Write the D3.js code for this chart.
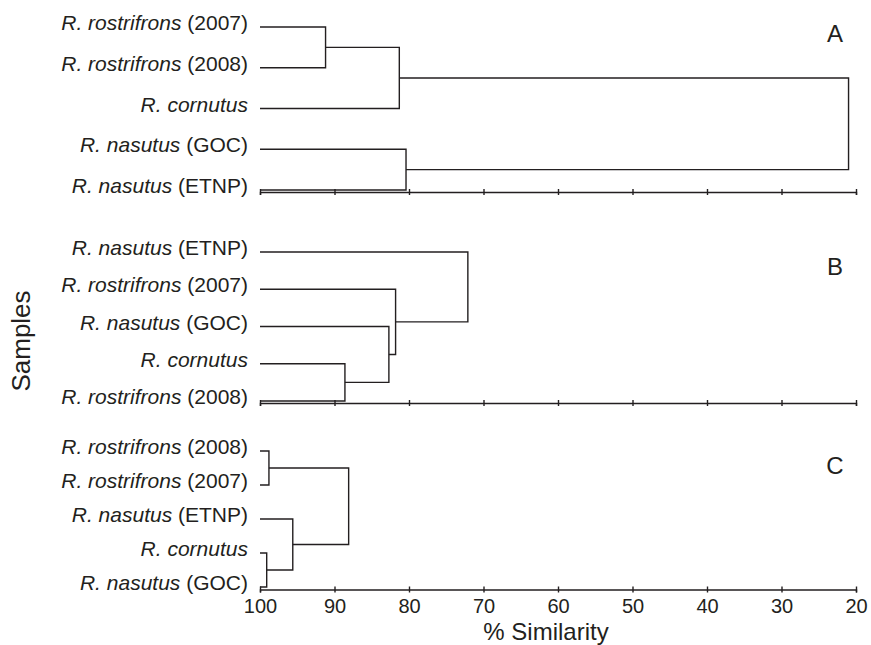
<!DOCTYPE html>
<html lang="en">
<head>
  <meta charset="UTF-8">
  <title>Dendrograms of % similarity</title>
  <script src="https://d3js.org/d3.v7.min.js"></script>
  <style>
    body {
      margin: 0;
      background: #fff;
    }
    svg text {
      font-family: "Liberation Sans", Arial, Helvetica, sans-serif;
      fill: #231f20;
    }
    .link {
      fill: none;
      stroke: #231f20;
      stroke-width: 1.4px;
    }
    .axis path, .axis line {
      stroke: #231f20;
      stroke-width: 1.4px;
    }
  </style>
</head>
<body>
  <svg width="871" height="645"></svg>

  <script>
    // leaves listed top to bottom; labels split into italic species + plain suffix
    const leavesA = [["R. rostrifrons", "(2007)"], ["R. rostrifrons", "(2008)"], ["R. cornutus", ""], ["R. nasutus", "(GOC)"], ["R. nasutus", "(ETNP)"]];
    const leavesB = [["R. nasutus", "(ETNP)"], ["R. rostrifrons", "(2007)"], ["R. nasutus", "(GOC)"], ["R. cornutus", ""], ["R. rostrifrons", "(2008)"]];
    const leavesC = [["R. rostrifrons", "(2008)"], ["R. rostrifrons", "(2007)"], ["R. nasutus", "(ETNP)"], ["R. cornutus", ""], ["R. nasutus", "(GOC)"]];

    // merges: [child, child, % similarity]; ids 0-4 are leaves, 5+ are earlier merges
    const mergesA = [[0, 1, 91.2], [5, 2, 81.3], [3, 4, 80.4], [6, 7, 21.0]];
    const mergesB = [[3, 4, 88.6], [2, 5, 82.7], [1, 6, 81.8], [0, 7, 72.1]];
    const mergesC = [[0, 1, 98.8], [3, 4, 99.1], [2, 6, 95.6], [5, 7, 88.1]];

    const panelLetters = ["A", "B", "C"];
    const tickValues = [100, 90, 80, 70, 60, 50, 40, 30, 20];

    const svg = d3.select("svg");

    const x = d3.scaleLinear().domain([100, 20]).range([260, 856]);

    const panels = [
      {leaves: leavesA, merges: mergesA, top: 27, bottom: 190, axisY: 192, letterY: 42},
      {leaves: leavesB, merges: mergesB, top: 252, bottom: 401, axisY: 403, letterY: 275},
      {leaves: leavesC, merges: mergesC, top: 451, bottom: 587, axisY: 589.5, letterY: 474}
    ];

    panels.forEach((p, i) => {
      const g = svg.append("g");
      const y = d3.scalePoint()
                  .domain(d3.range(p.leaves.length))
                  .range([p.top, p.bottom]);

      // node positions: leaves sit at 100 %
      const nodes = p.leaves.map((d, j) => ({x: x(100), y: y(j)}));
      p.merges.forEach(m => {
        const a = nodes[m[0]], b = nodes[m[1]];
        const nx = x(m[2]);
        g.append("path")
          .attr("class", "link")
          .attr("d", `M${a.x},${a.y}H${nx}V${b.y}H${b.x}`);
        nodes.push({x: nx, y: (a.y + b.y) / 2});
      });

      // sample labels
      const lab = g.selectAll("text.leaf")
        .data(p.leaves)
        .enter().append("text")
          .attr("class", "leaf")
          .attr("x", 248)
          .attr("y", (d, j) => y(j) + 3)
          .attr("text-anchor", "end")
          .style("font-size", "21px");
      lab.append("tspan")
        .style("font-style", "italic")
        .text(d => d[0]);
      lab.append("tspan")
        .text(d => d[1] ? " " + d[1] : "");

      // panel letter
      g.append("text")
        .attr("x", 835)
        .attr("y", p.letterY)
        .attr("text-anchor", "middle")
        .style("font-size", "24px")
        .text(panelLetters[i]);

      // axis
      const axis = d3.axisBottom(x)
                     .tickValues(tickValues)
                     .tickSizeOuter(0)
                     .tickSize(3);
      if (i < 2) axis.tickFormat("");
      const ax = g.append("g")
        .attr("class", "axis")
        .attr("transform", `translate(0,${p.axisY})`)
        .call(axis);
      ax.selectAll(".tick line").attr("y1", -3);
      ax.selectAll(".tick text")
        .attr("y", 9.5)
        .attr("dy", "0.71em")
        .style("font-size", "20px")
        .style("font-family", "\"Liberation Sans\", Arial, Helvetica, sans-serif")
        .attr("fill", "#231f20");
    });

    svg.append("text")
      .attr("x", 546)
      .attr("y", 640)
      .attr("text-anchor", "middle")
      .style("font-size", "24px")
      .text("% Similarity");

    svg.append("text")
      .attr("transform", "translate(30,341) rotate(-90)")
      .attr("text-anchor", "middle")
      .style("font-size", "26px")
      .text("Samples");
  </script>
</body>
</html>
